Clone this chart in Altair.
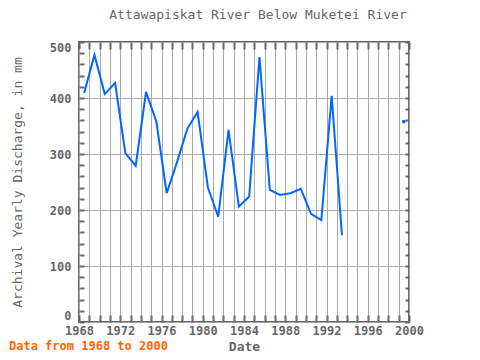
import altair as alt
import pandas as pd

# ---- data ----
years = [1968, 1969, 1970, 1971, 1972, 1973, 1974, 1975, 1976, 1977, 1978, 1979,
         1980, 1981, 1982, 1983, 1984, 1985, 1986, 1987, 1988, 1989, 1990, 1991,
         1992, 1993, 1999]
values = [409, 477, 407, 427, 301, 279, 411, 358, 230, 285, 345, 375,
          240, 188, 343, 206, 224, 473, 236, 227, 230, 238, 193, 182,
          404, 155, 358]
x_ticks = list(range(1968, 2001))
y_major = [0, 100, 200, 300, 400, 500]
y_minor = list(range(0, 501, 20))
title_text = "Attawapiskat River Below Muketei River"
y_title = "Archival Yearly Discharge, in mm"
x_title = "Date"
footnote = "Data from 1968 to 2000"

# segments: break the line where years are missing
seg = []
s = 0
for i, yr in enumerate(years):
    if i > 0 and yr - years[i - 1] > 1:
        s += 1
    seg.append(s)
df = pd.DataFrame({"year": years, "value": values, "seg": seg})
df["xpos"] = df["year"] + 0.5
counts = df.groupby("seg")["year"].transform("count")
df["single"] = counts == 1

FONT = "DejaVu Sans Mono"
GRAY = "#666666"
W, H = 330, 280

xscale = alt.Scale(domain=[1968, 2000], nice=False, zero=False)
yscale = alt.Scale(domain=[0, 500], nice=False)

main_x_axis = alt.Axis(
    orient="bottom", values=x_ticks, grid=True, gridColor="#aaaaaa", gridWidth=1,
    ticks=False, domain=False, labelFlush=False,
    labelExpr="datum.value % 4 == 0 ? format(datum.value, 'd') : ''",
    labelFont=FONT, labelFontSize=12, labelFontWeight="bold", labelColor=GRAY,
    labelPadding=3, title=x_title, titleFont=FONT, titleFontSize=13,
    titleFontWeight="bold", titleColor=GRAY, titleY=24, titleBaseline="middle")
main_y_axis = alt.Axis(
    orient="left", values=y_major, grid=True, gridColor="#aaaaaa", gridWidth=1,
    ticks=False, domain=False, labelFlush=True,
    labelFont=FONT, labelFontSize=12, labelFontWeight="bold", labelColor=GRAY,
    labelPadding=8, title=y_title, titleFont=FONT, titleFontSize=13,
    titleFontWeight="normal", titleColor=GRAY, titleX=-62, titleY=H / 2,
    titleAngle=-90, titleAlign="center", titleBaseline="middle")

line = alt.Chart(df[~df["single"]]).mark_line(color="#0066ff", strokeWidth=2).encode(
    x=alt.X("xpos:Q", scale=xscale, axis=main_x_axis),
    y=alt.Y("value:Q", scale=yscale, axis=main_y_axis),
    detail="seg:N")

pts = alt.Chart(df[df["single"]]).mark_circle(color="#0066ff", size=14, opacity=1).encode(
    x=alt.X("xpos:Q", scale=xscale, axis=None),
    y=alt.Y("value:Q", scale=yscale, axis=None))

def tick_axis(orient, vals, size):
    return alt.Axis(orient=orient, values=vals, offset=-size, tickSize=size,
                    tickWidth=2, tickColor=GRAY, labels=False, grid=False,
                    domain=False, title=None)

ticks_a = alt.Chart(df).mark_line(opacity=0).encode(
    x=alt.X("xpos:Q", scale=xscale, axis=tick_axis("top", x_ticks, 7)),
    y=alt.Y("value:Q", scale=yscale, axis=tick_axis("right", y_minor, 4)))
ticks_b = alt.Chart(df).mark_line(opacity=0).encode(
    x=alt.X("xpos:Q", scale=xscale, axis=tick_axis("bottom", x_ticks, 7)),
    y=alt.Y("value:Q", scale=yscale, axis=tick_axis("left", y_minor, 5)))

note = alt.Chart(pd.DataFrame({"t": [footnote]})).mark_text(
    align="left", baseline="middle", font=FONT, fontSize=12, fontWeight="bold",
    color="#ff6600").encode(x=alt.value(-70), y=alt.value(H + 24), text="t:N")

chart = alt.layer(line, pts, ticks_a, ticks_b, note).resolve_axis(
    x="independent", y="independent"
).properties(
    width=W, height=H,
    title=alt.TitleParams(title_text, anchor="middle", dx=14, offset=19,
                          font=FONT, fontSize=13, fontWeight="normal", color=GRAY),
    autosize=alt.AutoSizeParams(type="none"),
    padding={"left": 71, "top": 34, "right": 63, "bottom": 30},
).configure_view(stroke=GRAY, strokeWidth=2)

chart.save("out.html", embed_options={"renderer": "svg", "actions": False})
